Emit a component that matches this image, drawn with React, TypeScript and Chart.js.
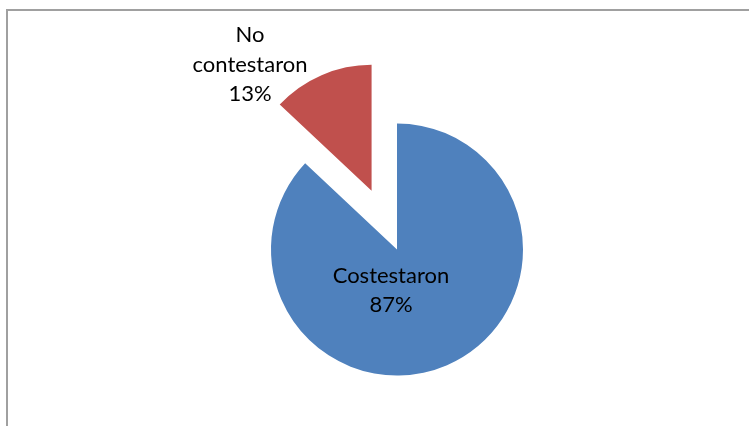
import React, { useEffect, useRef } from "react";
import { Chart, ArcElement, PieController } from "chart.js";

Chart.register(ArcElement, PieController);

const categories = ["Costestaron", "No contestaron"];
const labelLines = [
  ["Costestaron", "87%"],
  ["No", "contestaron", "13%"],
];
const values = [87, 13];
const colors = ["#4F81BD", "#C0504D"];
const explodeDistance = [0, 64];

const FONT = "22px Lato, 'Open Sans', sans-serif";
const LINE_H = 29.5;

export default function App() {
  const ref = useRef<HTMLCanvasElement>(null);

  useEffect(() => {
    if (!ref.current) return;

    const frame = {
      id: "frame",
      beforeDraw(chart: any) {
        const ctx = chart.ctx;
        ctx.save();
        ctx.strokeStyle = "#A0A0A0";
        ctx.lineWidth = 2;
        ctx.strokeRect(7, 10, 900, 600);
        ctx.restore();
      },
    };

    const explode = {
      id: "explode",
      beforeDatasetsDraw(chart: any) {
        const meta = chart.getDatasetMeta(0);
        meta.data.forEach((arc: any, i: number) => {
          const d = explodeDistance[i];
          if (!d || arc._patched) return;
          const orig = arc.draw;
          arc.draw = function (ctx: CanvasRenderingContext2D, area: any) {
            const mid = (this.startAngle + this.endAngle) / 2;
            ctx.save();
            ctx.translate(Math.cos(mid) * d, Math.sin(mid) * d);
            orig.call(this, ctx, area);
            ctx.restore();
          };
          arc._patched = true;
        });
      },
    };

    const labels = {
      id: "sliceLabels",
      afterDatasetsDraw(chart: any) {
        const ctx = chart.ctx;
        const meta = chart.getDatasetMeta(0);
        ctx.save();
        ctx.font = FONT;
        ctx.fillStyle = "#000000";
        ctx.textAlign = "center";
        ctx.textBaseline = "middle";
        meta.data.forEach((arc: any, i: number) => {
          const r = arc.outerRadius;
          const mid = (arc.startAngle + arc.endAngle) / 2;
          const d = explodeDistance[i];
          const ax = arc.x + Math.cos(mid) * d;
          const ay = arc.y + Math.sin(mid) * d;
          let cx: number, cy: number;
          if (i === 0) {
            cx = ax - 0.048 * r;
            cy = ay + 0.325 * r;
          } else {
            cx = ax - 0.965 * r;
            cy = ay - 1.0 * r;
          }
          const lines = labelLines[i];
          const start = cy - ((lines.length - 1) * LINE_H) / 2;
          lines.forEach((t, k) => ctx.fillText(t, cx, start + k * LINE_H));
        });
        ctx.restore();
      },
    };

    const chart = new Chart(ref.current, {
      type: "pie",
      data: {
        labels: categories,
        datasets: [
          {
            data: values,
            backgroundColor: colors,
            borderWidth: 0,
          },
        ],
      },
      options: {
        responsive: false,
        animation: false,
        layout: { padding: { left: 271, right: 226, top: 123.5, bottom: 50.5 } },
        plugins: {
          legend: { display: false },
          tooltip: { enabled: false },
        },
      },
      plugins: [frame, explode, labels],
    });
    return () => chart.destroy();
  }, []);

  return (
    <div style={{ position: "fixed", left: 0, top: 0, width: 749, height: 426, background: "#fff" }}>
      <canvas ref={ref} width={749} height={426} style={{ display: "block" }} />
    </div>
  );
}
